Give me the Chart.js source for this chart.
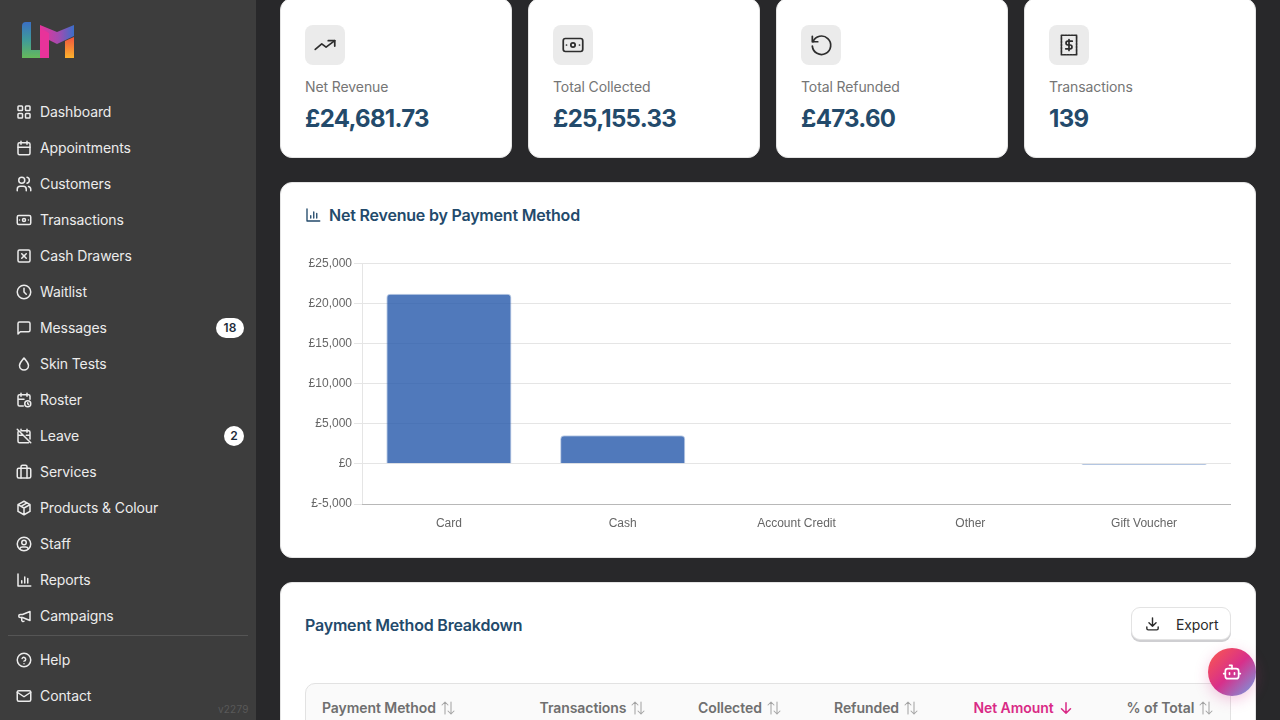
<!DOCTYPE html>
<html lang="en">
<head>
<meta charset="utf-8">
<title>Net Revenue by Payment Method</title>
<script src="https://cdn.jsdelivr.net/npm/chart.js@4"></script>
<style>
  * { box-sizing: border-box; }
  html, body { margin: 0; width: 1280px; height: 720px; overflow: hidden; background: #28282a; font-family: Inter, sans-serif; }
  svg.ic { fill: none; stroke: currentColor; stroke-width: 2; stroke-linecap: round; stroke-linejoin: round; position: absolute; }
  #side { position: absolute; left: 0; top: 0; width: 256px; height: 720px; background: #3d3d3d; }
  #nav .item { position: absolute; left: 40px; font-size: 14px; line-height: 20px; color: #ececec; white-space: nowrap; letter-spacing: -.1px; }
  #nav svg.ic { left: 15px; width: 18px; height: 18px; color: #ececec; }
  .badge { position: absolute; height: 20px; border-radius: 10px; background: #fff; color: #1d2b3a; font-size: 12px; font-weight: 600; line-height: 20px; text-align: center; }
  #rule { position: absolute; left: 8px; top: 635px; width: 240px; height: 1px; background: #555; }
  #ver { position: absolute; left: 218px; top: 702px; font-size: 10px; line-height: 14px; color: #595959; letter-spacing: .2px; }
  .card { position: absolute; background: #fff; border: 1px solid #e4e4e4; border-radius: 12px; }
  .stat { top: -2px; width: 232px; height: 160px; }
  .stat .box { position: absolute; left: 24px; top: 26px; width: 40px; height: 40px; border-radius: 8px; background: #ebebeb; color: #2d2d2d; }
  .stat .box svg { left: 7px; top: 7px; width: 26px; height: 26px; stroke-width: 1.6; }
  .stat .lbl { position: absolute; left: 24px; top: 78px; font-size: 14px; line-height: 20px; color: #757575; letter-spacing: -.1px; }
  .stat .val { position: absolute; left: 24px; top: 104px; font-size: 24px; line-height: 32px; font-weight: 700; color: #234a6b; letter-spacing: -.7px; }
  .h { position: absolute; font-size: 16px; line-height: 22px; font-weight: 600; color: #234a6b; white-space: nowrap; letter-spacing: -.2px; }
  #cv { position: absolute; left: 305px; top: 254px; }
  #tbl { position: absolute; left: 305px; top: 683px; width: 926px; height: 60px; background: #fafafa; border: 1px solid #e2e2e2; border-radius: 10px; }
  .th { position: absolute; top: 698px; font-size: 14px; line-height: 20px; font-weight: 600; color: #6f6f6f; white-space: nowrap; letter-spacing: -.07px; }
  .th svg { position: static; display: inline-block; width: 18px; height: 18px; vertical-align: -4px; margin-left: 3px; stroke-width: 1.4; color: #a4a4a4; }
  .th.on { color: #d92a86; }
  .th.on svg { color: #d92a86; stroke-width: 2; }
  #exp { position: absolute; left: 1131px; top: 607px; width: 100px; height: 33px; background: #fff; border: 1px solid #e3e3e3; border-radius: 9px; box-shadow: 0 2px 0 #cfcfd2; color: #2b2b2b; font-size: 14px; line-height: 33px; letter-spacing: -.1px; }
  #exp span { position: absolute; left: 44px; top: 0; }
  #exp svg { left: 12px; top: 7px; width: 17px; height: 17px; }
  #bot { position: absolute; left: 1208px; top: 648px; width: 48px; height: 48px; border-radius: 50%; background: linear-gradient(135deg, #f4505a 12%, #d82f8a 50%, #7f90d8 92%); box-shadow: 0 4px 14px rgba(216,47,138,.25); color: #fff; }
  #bot svg { left: 14px; top: 14px; width: 20px; height: 20px; stroke-width: 2; }
</style>
</head>
<body>
<div id="side">
  <svg style="position:absolute;left:20px;top:20px" width="56" height="40" viewBox="0 0 56 40">
    <defs>
      <linearGradient id="gl" x1="0" y1="0" x2="0" y2="1"><stop offset="0" stop-color="#3a6fc4"/><stop offset=".5" stop-color="#3f9a9a"/><stop offset="1" stop-color="#66b95a"/></linearGradient>
      <linearGradient id="gm" x1="0" y1="0" x2="1" y2="0"><stop offset="0" stop-color="#e8339a"/><stop offset=".55" stop-color="#a44bb0"/><stop offset="1" stop-color="#3a6fca"/></linearGradient>
      <linearGradient id="gr" x1="0" y1="0" x2="0" y2="1"><stop offset="0" stop-color="#f0553f"/><stop offset="1" stop-color="#fdb22c"/></linearGradient>
    </defs>
    <path d="M2 6 Q2 2 6 2 H11 V30 H20 V38 H2 Z" fill="url(#gl)"/>
    <path d="M20 38 V5 L37 12 L54 5 V16 L37 24 L29 20 V38 Z" fill="url(#gm)"/>
    <path d="M20 8 L29 13 V38 H20 Z" fill="#e8339a"/>
    <path d="M45 21 L54 17 V38 H45 Z" fill="url(#gr)"/>
  </svg>
  <div id="nav"></div>
  <div class="badge" style="left:216px;top:318px;width:28px">18</div>
  <div class="badge" style="left:224px;top:426px;width:20px">2</div>
  <div id="rule"></div>
  <div id="ver">v2279</div>
</div>

<div class="card stat" style="left:280px">
  <div class="box"><svg class="ic" viewBox="0 0 24 24"><path d="M3 16l6-5 4 3 8-6"/><path d="M15 8h6v5"/></svg></div>
  <div class="lbl">Net Revenue</div><div class="val">£24,681.73</div>
</div>
<div class="card stat" style="left:528px">
  <div class="box"><svg class="ic" viewBox="0 0 24 24"><rect x="3" y="6" width="18" height="12" rx="2"/><circle cx="12" cy="12" r="2"/><path d="M6 12h.01M18 12h.01"/></svg></div>
  <div class="lbl">Total Collected</div><div class="val">£25,155.33</div>
</div>
<div class="card stat" style="left:776px">
  <div class="box"><svg class="ic" viewBox="0 0 24 24"><path d="M4 4v5h5"/><path d="M4.600 9A8.500 8.500 0 1 1 4 13"/></svg></div>
  <div class="lbl">Total Refunded</div><div class="val">£473.60</div>
</div>
<div class="card stat" style="left:1024px">
  <div class="box"><svg class="ic" viewBox="0 0 24 24"><path d="M5 3h14v18H5z" stroke-dasharray="2 1"/><path d="M15 8.500h-4a1.700 1.700 0 0 0 0 3.500h2a1.700 1.700 0 0 1 0 3.500H9M12 7v10"/></svg></div>
  <div class="lbl">Transactions</div><div class="val">139</div>
</div>

<div class="card" style="left:280px;top:182px;width:976px;height:376px"></div>
<svg class="ic" viewBox="0 0 24 24" style="left:304px;top:206px;width:18px;height:18px;color:#234a6b;stroke-width:1.8"><path d="M4 4v16h17"/><path d="M9 16v-3M13 16V8M17 16v-6"/></svg>
<div class="h" style="left:329px;top:204px">Net Revenue by Payment Method</div>
<canvas id="cv" width="926" height="282"></canvas>

<div class="card" style="left:280px;top:582px;width:976px;height:180px"></div>
<div class="h" style="left:305px;top:614px">Payment Method Breakdown</div>
<div id="exp"><svg class="ic" viewBox="0 0 24 24"><path d="M4 17v2a2 2 0 0 0 2 2h12a2 2 0 0 0 2-2v-2"/><path d="M7 11l5 5 5-5M12 4v12"/></svg><span>Export</span></div>
<div id="tbl"></div>
<div id="heads"></div>
<div id="bot"><svg class="ic" viewBox="0 0 24 24"><rect x="4" y="8" width="16" height="12" rx="3"/><path d="M12 8V4H9M2 14h2M20 14h2M9 13v2M15 13v2"/></svg></div>

<script>
const categories = ['Card', 'Cash', 'Account Credit', 'Other', 'Gift Voucher'];
const netRevenue = [21200, 3550, 0, 0, -130];
const yTicks = [-5000, 0, 5000, 10000, 15000, 20000, 25000];

const navLabels = ['Dashboard', 'Appointments', 'Customers', 'Transactions', 'Cash Drawers', 'Waitlist', 'Messages', 'Skin Tests', 'Roster', 'Leave', 'Services', 'Products & Colour', 'Staff', 'Reports', 'Campaigns', 'Help', 'Contact'];
const navTops = [112, 148, 184, 220, 256, 292, 328, 364, 400, 436, 472, 508, 544, 580, 616, 660, 696];
const navIcons = [
  '<rect x="4" y="4" width="6" height="6" rx="1"/><rect x="14" y="4" width="6" height="6" rx="1"/><rect x="4" y="14" width="6" height="6" rx="1"/><rect x="14" y="14" width="6" height="6" rx="1"/>',
  '<rect x="4" y="5" width="16" height="16" rx="2"/><path d="M16 3v4M8 3v4M4 11h16"/>',
  '<circle cx="9" cy="7" r="4"/><path d="M3 21v-2a4 4 0 0 1 4-4h4a4 4 0 0 1 4 4v2M16 3.100a4 4 0 0 1 0 7.800M21 21v-2a4 4 0 0 0-3-3.800"/>',
  '<rect x="3" y="6" width="18" height="12" rx="2"/><circle cx="12" cy="12" r="2"/><path d="M6 12h.01M18 12h.01"/>',
  '<rect x="4" y="4" width="16" height="16" rx="2"/><path d="M9 9l6 6M15 9l-6 6"/>',
  '<circle cx="12" cy="12" r="9"/><path d="M12 7v5l3 3"/>',
  '<path d="M4 20V6a2 2 0 0 1 2-2h12a2 2 0 0 1 2 2v9a2 2 0 0 1-2 2H7z"/>',
  '<path d="M12 4c3 4 6 6.500 6 10a6 6 0 0 1-12 0c0-3.500 3-6 6-10z"/>',
  '<path d="M11 20H6a2 2 0 0 1-2-2V7a2 2 0 0 1 2-2h12a2 2 0 0 1 2 2v4M16 3v4M8 3v4M4 11h8"/><circle cx="17" cy="17" r="4"/><path d="M17 15.500V17l1 1"/>',
  '<path d="M3 3l18 18M20 16V7a2 2 0 0 0-2-2H8M5 5.500A2 2 0 0 0 4 7v12a2 2 0 0 0 2 2h12M16 3v4M8 3v1M4 11h7M15 11h5"/>',
  '<rect x="3" y="7" width="18" height="13" rx="2"/><path d="M8 20V5a2 2 0 0 1 2-2h4a2 2 0 0 1 2 2v15"/>',
  '<path d="M12 3l8 4.500v9L12 21l-8-4.500v-9zM12 12l8-4.500M12 12v9M12 12L4 7.500M16 5.200L8 9.800"/>',
  '<circle cx="12" cy="12" r="9"/><circle cx="12" cy="10" r="3"/><path d="M6.200 18.500A4 4 0 0 1 10 16h4a4 4 0 0 1 3.800 2.500"/>',
  '<path d="M4 4v16h17"/><path d="M9 16v-3M13 16V8M17 16v-6"/>',
  '<path d="M18 6v12L8 14H5a2 2 0 0 1-2-2v0a2 2 0 0 1 2-2h3z" transform="translate(2 0)"/><path d="M9 14v4a2 2 0 0 0 3 1"/>',
  '<circle cx="12" cy="12" r="9"/><path d="M12 17h.01M12 13.500a2.500 2.500 0 1 0-2.500-3.500"/>',
  '<rect x="3" y="5" width="18" height="14" rx="2"/><path d="M3 7l9 6 9-6"/>'
];
const tableHeads = ['Payment Method', 'Transactions', 'Collected', 'Refunded', 'Net Amount', '% of Total'];
const tableLefts = [322, 539.5, 698, 834, 973.5, 1126.5];
const sortedHead = 'Net Amount';

document.getElementById('nav').innerHTML = navLabels.map(function (label, i) {
  const t = navTops[i];
  const safe = label.replace('&', '&amp;');
  return '<svg class="ic" viewBox="0 0 24 24" style="top:' + (t - 9) + 'px">' + navIcons[i] + '</svg>' +
    '<div class="item" style="top:' + (t - 10) + 'px">' + safe + '</div>';
}).join('');

document.getElementById('heads').innerHTML = tableHeads.map(function (label, i) {
  const on = label === sortedHead;
  const arrows = on
    ? '<path d="M12 5v14M6 13l6 6 6-6"/>'
    : '<path d="M8 20V4M4 8l4-4 4 4M16 4v16M12 16l4 4 4-4"/>';
  return '<div class="th' + (on ? ' on' : '') + '" style="left:' + tableLefts[i] + 'px">' + label +
    '<svg class="ic" viewBox="0 0 24 24">' + arrows + '</svg></div>';
}).join('');

const ctx = document.getElementById('cv').getContext('2d');

new Chart(ctx, {
  type: 'bar',
  data: {
    labels: categories,
    datasets: [{
      label: 'Net Revenue',
      data: netRevenue,
      backgroundColor: 'rgba(36, 88, 170, 0.8)',
      borderColor: 'rgba(36, 88, 170, 0.3)',
      borderWidth: 1,
      borderRadius: 4
    }]
  },
  options: {
    responsive: false,
    animation: false,
    layout: { padding: 0 },
    plugins: { legend: { display: false }, tooltip: { enabled: false } },
    scales: {
      x: {
        grid: { display: false },
        border: { color: 'rgba(0,0,0,0.2)' },
        afterFit: function (scale) { scale.height = 32; },
        ticks: { color: '#666', font: { family: '"Liberation Sans", Helvetica, Arial, sans-serif', size: 12 }, padding: 4 }
      },
      y: {
        min: yTicks[0],
        max: yTicks[yTicks.length - 1],
        afterBuildTicks: function (scale) { scale.ticks = yTicks.map(function (v) { return { value: v }; }); },
        afterFit: function (scale) { scale.width = 57; },
        grid: { color: 'rgba(0,0,0,0.1)' },
        border: { color: 'rgba(0,0,0,0.1)' },
        ticks: {
          color: '#666',
          padding: 2,
          font: { family: '"Liberation Sans", Helvetica, Arial, sans-serif', size: 12 },
          callback: function (v) { return '£' + Number(v).toLocaleString('en-GB'); }
        }
      }
    }
  }
});
</script>
</body>
</html>
